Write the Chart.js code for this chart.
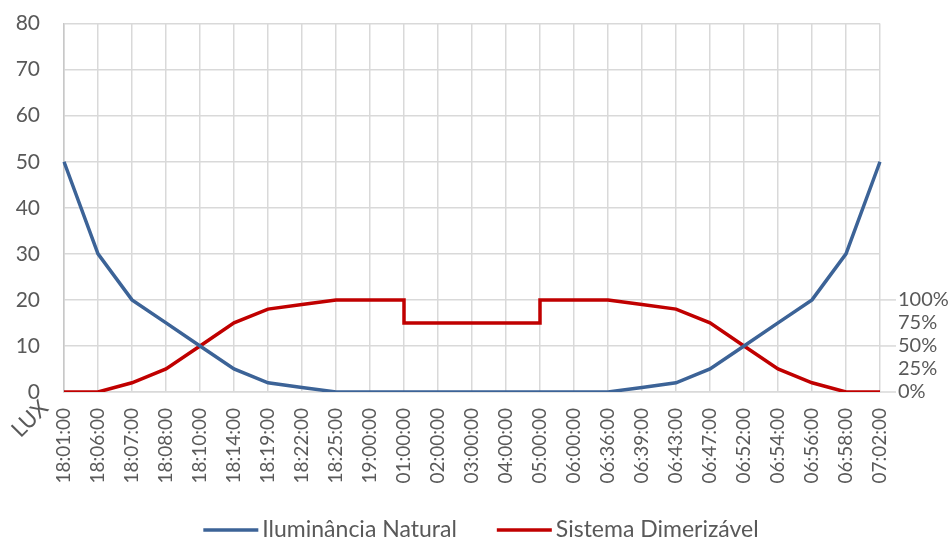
<!DOCTYPE html>
<html>
<head>
<meta charset="utf-8">
<script src="https://cdn.jsdelivr.net/npm/chart.js@4"></script>
<style>
  html, body { margin: 0; padding: 0; background: #fff; }
  #wrap { width: 949px; height: 539px; }
</style>
</head>
<body>
<div id="wrap"><canvas id="c" width="949" height="539"></canvas></div>
<script>
const timeLabels = ['18:01:00','18:06:00','18:07:00','18:08:00','18:10:00','18:14:00','18:19:00','18:22:00','18:25:00','19:00:00','01:00:00','02:00:00','03:00:00','04:00:00','05:00:00','06:00:00','06:36:00','06:39:00','06:43:00','06:47:00','06:52:00','06:54:00','06:56:00','06:58:00','07:02:00'];

// Natural illuminance, lux
const naturalLux = [50,30,20,15,10,5,2,1,0,0,0,0,0,0,0,0,0,1,2,5,10,15,20,30,50];

// Dimming system output, % (steps at 01:00 and 05:00)
const dimTimes = ['18:01:00','18:06:00','18:07:00','18:08:00','18:10:00','18:14:00','18:19:00','18:22:00','18:25:00','19:00:00','01:00:00','01:00:00','02:00:00','03:00:00','04:00:00','05:00:00','05:00:00','06:00:00','06:36:00','06:39:00','06:43:00','06:47:00','06:52:00','06:54:00','06:56:00','06:58:00','07:02:00'];
const dimPercent = [0,0,10,25,50,75,90,95,100,100,100,75,75,75,75,75,100,100,100,95,90,75,50,25,10,0,0];

const luxTicks = [0,10,20,30,40,50,60,70,80];
const percentTicks = [0,25,50,75,100];

const FONT = 'Lato, "Open Sans", sans-serif';
const GREY = '#595959';
const GRID = '#d9d9d9';
const CLEAR = 'rgba(0,0,0,0)';

// "LUX" unit label under the left axis, drawn diagonally
const luxLabel = {
  id: 'luxLabel',
  afterDraw(chart) {
    const { ctx, chartArea } = chart;
    ctx.save();
    ctx.translate(chartArea.left - 34, chartArea.bottom + 27);
    ctx.rotate(-Math.PI / 4);
    ctx.font = '22px ' + FONT;
    ctx.fillStyle = GREY;
    ctx.textAlign = 'center';
    ctx.textBaseline = 'middle';
    ctx.fillText('LUX', 0, 0);
    ctx.restore();
  }
};

// Legend row along the bottom: line sample + series name
const lineLegend = {
  id: 'lineLegend',
  afterDraw(chart) {
    const { ctx } = chart;
    const sample = 55, gap = 4, spacing = 40, y = 530;
    ctx.save();
    ctx.font = '23px ' + FONT;
    const items = chart.data.datasets.map(ds => ({
      text: ds.label, color: ds.borderColor, w: ctx.measureText(ds.label).width
    }));
    const total = items.reduce((s, it) => s + sample + gap + it.w, 0) + spacing * (items.length - 1);
    let x = 481 - total / 2;
    items.forEach(it => {
      ctx.strokeStyle = it.color;
      ctx.lineWidth = 3.5;
      ctx.beginPath();
      ctx.moveTo(x, y);
      ctx.lineTo(x + sample, y);
      ctx.stroke();
      ctx.fillStyle = GREY;
      ctx.textAlign = 'left';
      ctx.textBaseline = 'middle';
      ctx.fillText(it.text, x + sample + gap, y);
      x += sample + gap + it.w + spacing;
    });
    ctx.restore();
  }
};

// Short outside tick marks on the percentage axis at 0%, 50% and 100%
const percentTickMarks = {
  id: 'percentTickMarks',
  afterDraw(chart) {
    const { ctx, chartArea, scales } = chart;
    ctx.save();
    ctx.strokeStyle = GRID;
    ctx.lineWidth = 1.5;
    [0, 50, 100].forEach(v => {
      const y = scales.y1.getPixelForValue(v);
      ctx.beginPath();
      ctx.moveTo(chartArea.right, y);
      ctx.lineTo(chartArea.right + 16, y);
      ctx.stroke();
    });
    ctx.restore();
  }
};

new Chart(document.getElementById('c'), {
  type: 'line',
  data: {
    labels: timeLabels,
    datasets: [
      {
        label: 'Iluminância Natural',
        data: naturalLux,
        borderColor: '#3C6397',
        backgroundColor: '#3C6397',
        borderWidth: 3.5,
        pointRadius: 0,
        tension: 0,
        yAxisID: 'y'
      },
      {
        label: 'Sistema Dimerizável',
        data: dimTimes.map((t, i) => ({ x: t, y: dimPercent[i] })),
        borderColor: '#C00000',
        backgroundColor: '#C00000',
        borderWidth: 3.5,
        pointRadius: 0,
        tension: 0,
        yAxisID: 'y1'
      }
    ]
  },
  options: {
    responsive: false,
    animation: false,
    layout: { padding: 0 },
    plugins: {
      tooltip: { enabled: false },
      legend: { display: false }
    },
    scales: {
      x: {
        type: 'category',
        offset: false,
        grid: { color: GRID, lineWidth: 1.5, drawTicks: false },
        border: { display: true, color: GRID, width: 1.5 },
        ticks: {
          color: GREY,
          font: { family: FONT, size: 19 },
          maxRotation: 90,
          minRotation: 90,
          autoSkip: false,
          padding: 16
        },
        afterFit(scale) { scale.height = 147; }
      },
      y: {
        position: 'left',
        min: 0,
        max: 80,
        afterBuildTicks(scale) { scale.ticks = luxTicks.map(v => ({ value: v })); },
        grid: { color: GRID, lineWidth: 1.5, drawTicks: true, tickLength: 13, tickColor: CLEAR },
        border: { display: true, color: '#c8c8c8', width: 1.5 },
        ticks: {
          color: GREY,
          font: { family: FONT, size: 21 },
          padding: 11
        },
        afterFit(scale) { scale.width = 64; }
      },
      y1: {
        position: 'right',
        min: 0,
        max: 400,
        afterBuildTicks(scale) { scale.ticks = percentTicks.map(v => ({ value: v })); },
        grid: { drawOnChartArea: false, drawTicks: true, tickLength: 16, tickColor: CLEAR },
        border: { display: false },
        ticks: {
          color: GREY,
          font: { family: FONT, size: 20 },
          padding: 2,
          callback: v => v + '%'
        },
        afterFit(scale) { scale.width = 69; }
      }
    }
  },
  plugins: [luxLabel, lineLegend, percentTickMarks]
});
</script>
</body>
</html>
